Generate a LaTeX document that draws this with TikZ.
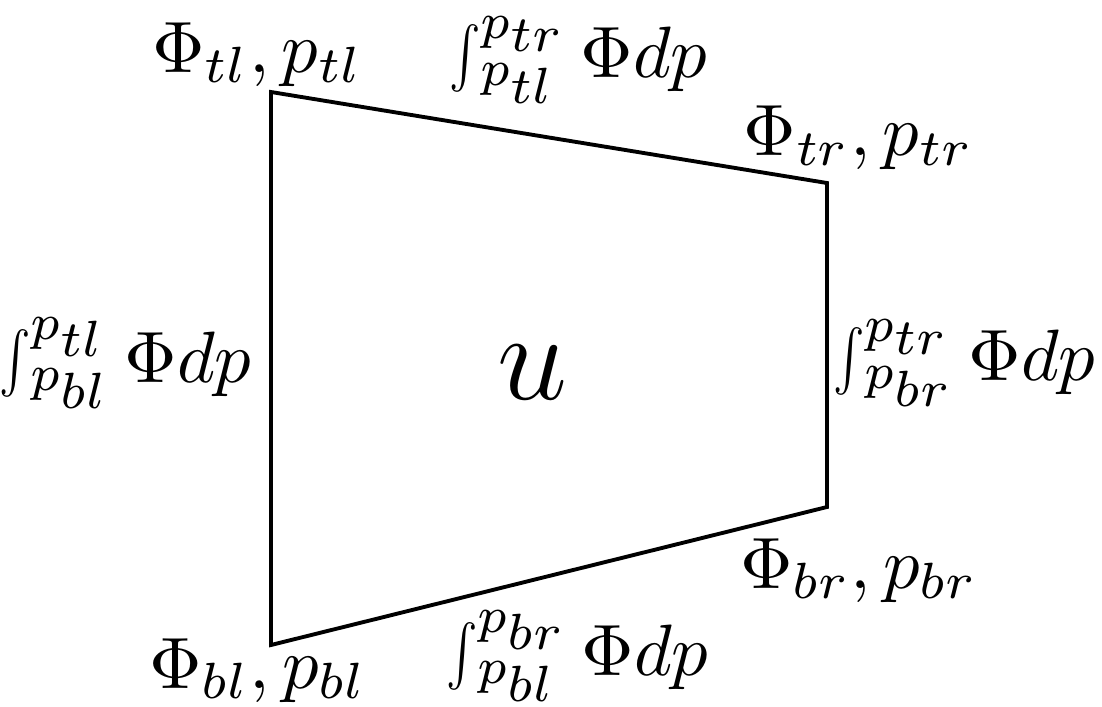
\documentclass[tikz,border=0pt]{standalone}
\usepackage{amsmath,amssymb}
\usepackage{tikz}

\newcommand{\pint}[2]{\mathop{\smash{\vcenter{\hbox{\scalebox{0.65}[0.84]{$\int$}}}}}\nolimits_{#1}^{#2}}

\begin{document}
\begin{tikzpicture}[lbl/.style={anchor=base west, inner sep=0pt, scale=2.07},
  ilbl/.style={lbl, anchor=base east}]
  \useasboundingbox (0,0) rectangle (11.02,7.06);
  \coordinate (tl) at (2.71,6.14);
  \coordinate (tr) at (8.27,5.23);
  \coordinate (br) at (8.27,1.99);
  \coordinate (bl) at (2.71,0.61);
  \draw[line width=1.1pt] (tl) -- (tr) -- (br) -- (bl) -- cycle;
  \node[anchor=base, inner sep=0pt, font=\LARGE, scale=2.07] (u) at (5.33,3.07) {$u$};
  \node[lbl] (ptl) at (1.51,6.34) {$\Phi_{tl}, p_{tl}$};
  \node[lbl] (ptr) at (7.42,5.51) {$\Phi_{tr}, p_{tr}$};
  \node[lbl] (pbr) at (7.39,1.18) {$\Phi_{br}, p_{br}$};
  \node[lbl] (pbl) at (1.48,0.18) {$\Phi_{bl}, p_{bl}$};
  \node[ilbl] (itop) at (7.09,6.29) {$\pint{p_{\scriptstyle tl}}{p_{\scriptstyle tr}}\Phi dp$};
  \node[ilbl] (iright) at (10.97,3.26) {$\pint{p_{\scriptstyle br}}{p_{\scriptstyle tr}}\Phi dp$};
  \node[ilbl] (ileft) at (2.53,3.24) {$\pint{p_{\scriptstyle bl}}{p_{\scriptstyle tl}}\Phi dp$};
  \node[ilbl] (ibot) at (7.10,0.31) {$\pint{p_{\scriptstyle bl}}{p_{\scriptstyle br}}\Phi dp$};
\end{tikzpicture}
\end{document}
